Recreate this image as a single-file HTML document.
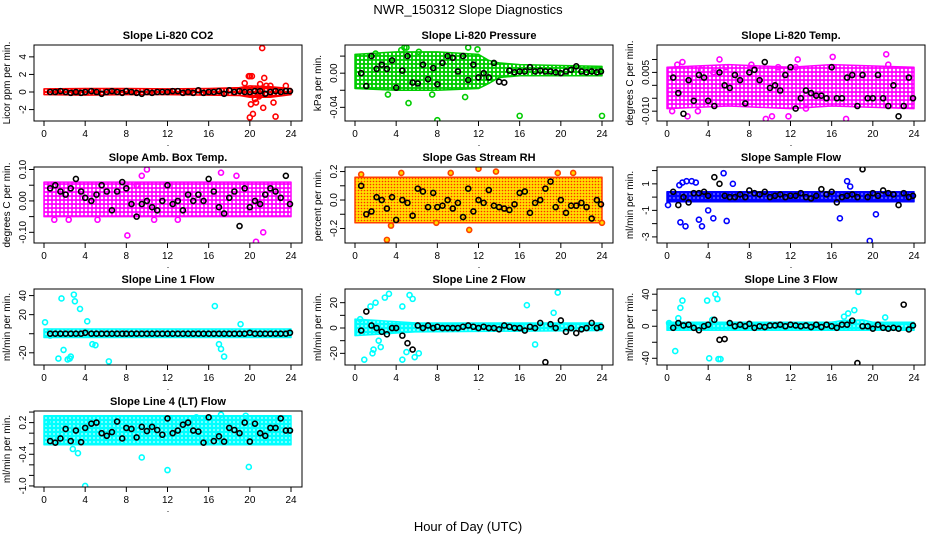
<!DOCTYPE html>
<html><head><meta charset="utf-8">
<style>
html,body{margin:0;padding:0;background:#fff;}
svg{display:block;font-family:"Liberation Sans",sans-serif;}
</style></head>
<body>
<svg id="chart" width="936" height="540" viewBox="0 0 936 540">
<defs>
<pattern id="pt-red" width="4" height="4" patternUnits="userSpaceOnUse"><rect width="4" height="4" fill="#ff0000"/><circle cx="2" cy="2" r="1" fill="#fff"/></pattern>
<pattern id="pt-green" width="4" height="4" patternUnits="userSpaceOnUse"><rect width="4" height="4" fill="#00cc00"/><circle cx="2" cy="2" r="1.2" fill="#fff"/></pattern>
<pattern id="pt-magenta" width="4" height="4" patternUnits="userSpaceOnUse"><rect width="4" height="4" fill="#ff00ff"/><circle cx="2" cy="2" r="1.3" fill="#fff"/></pattern>
<pattern id="pt-orange" width="3" height="3" patternUnits="userSpaceOnUse"><rect width="3" height="3" fill="#ffdd00"/><circle cx="1.5" cy="1.5" r="0.8" fill="#ff3000"/></pattern>
<pattern id="pt-blue" width="4" height="4" patternUnits="userSpaceOnUse"><rect width="4" height="4" fill="#0000ff"/><circle cx="2" cy="2" r="0.9" fill="#88f"/></pattern>
<pattern id="pt-cyan" width="4" height="4" patternUnits="userSpaceOnUse"><rect width="4" height="4" fill="#00ffff"/><circle cx="2" cy="2" r="0.9" fill="#cff"/></pattern>
</defs>
<text x="468" y="14" text-anchor="middle" font-size="13">NWR_150312  Slope Diagnostics</text>
<text x="468" y="531" text-anchor="middle" font-size="13">Hour of Day (UTC)</text>
</svg>
<script>
const blackHours=[0.6,1.1,1.6,2.1,2.6,3.1,3.6,4.0,4.6,5.1,5.6,6.1,6.6,7.1,7.6,8.0,8.5,9.0,9.5,10.0,10.5,11.0,11.5,12.0,12.5,13.0,13.5,14.0,14.5,15.0,15.5,16.0,16.5,17.0,17.5,18.0,18.5,19.0,19.5,20.0,20.5,21.0,21.5,22.0,22.5,23.0,23.5,23.9];
const xTicks=[0,4,8,12,16,20,24];

const co2BandH=[0,4,8,12,16,19,20,22,24];
const co2BandLo=[-0.3,-0.35,-0.3,-0.3,-0.35,-0.4,-0.6,-0.6,-0.3];
const co2BandHi=[0.35,0.4,0.4,0.35,0.4,0.5,0.7,0.6,0.4];
const co2OutX=[19.5,19.9,20.0,20.2,20.1,20.0,20.3,21.2,21.4,21.3,20.6,22.5,23.5,21.0,21.6,22.0,22.3,20.9,20.5];
const co2OutY=[1.0,1.8,1.8,1.8,-1.4,-2.9,-2.5,5.0,1.6,-1.8,-1.2,-2.8,0.7,0.9,0.7,0.7,-1.2,-0.5,-0.8];
const co2Black=[0,0,0.1,0,-0.1,0,-0.1,0,0.1,0,-0.2,0,0.1,0,-0.1,0.1,0,-0.1,-0.2,0,-0.1,0,0,0,0.1,0.1,-0.1,0,-0.1,0.2,-0.1,0,0,0.1,-0.2,0.2,0,0.1,0,0,0.1,0.1,-0.2,0,0.1,0,0.1,0.1];
const presBandH=[0,4,8,12,13,14,16,24];
const presBandLo=[-0.018,-0.02,-0.02,-0.018,-0.012,-0.005,-0.003,-0.003];
const presBandHi=[0.022,0.025,0.025,0.022,0.015,0.012,0.01,0.008];
const presOutX=[4.8,5.0,4.5,6.2,8.0,16.0,24.0,5.2,3.2,10.7,11.0,2.0,7.5,11.9];
const presOutY=[0.03,0.03,0.027,0.025,-0.055,-0.05,-0.05,-0.035,-0.025,-0.028,0.03,0.023,-0.025,0.028];
const presBlack=[0.0,-0.015,0.02,0.005,0.01,0.005,0.015,-0.017,0.003,0.02,-0.011,-0.012,0.01,-0.007,0.006,-0.013,0.012,0.02,0.018,0.002,0.02,-0.008,0.01,-0.005,0.0,-0.005,0.012,-0.01,-0.011,0.003,0.001,0.002,0.002,0.007,0.002,0.003,0.002,0.002,0.001,0.0,0.002,0.004,0.008,0.002,0.001,0.002,0.001,0.002];
const tempBandH=[0,6,12,16,24];
const tempBandLo=[-0.009,-0.008,-0.009,-0.008,-0.009];
const tempBandHi=[0.007,0.008,0.007,0.008,0.007];
const tempOutX=[1.0,1.5,2.0,3.3,4.5,5.1,5.7,8.2,9.6,10.8,11.8,12.5,12.7,13.5,16.1,17.4,21.3,21.5,0.5,3.0,10.2];
const tempOutY=[0.008,0.009,-0.012,0.006,0.005,0.01,0.007,0.008,-0.013,0.007,-0.012,0.007,0.01,-0.009,0.011,-0.013,0.012,0.008,-0.01,-0.01,-0.012];
const tempBlack=[0.003,-0.003,-0.011,0.002,-0.006,0.004,0.003,-0.006,-0.008,0.005,0.0,-0.001,0.004,0.002,-0.007,0.005,0.006,0.002,0.009,-0.001,0.0,-0.002,0.004,0.007,-0.009,-0.005,-0.002,-0.003,-0.004,-0.004,-0.005,0.007,-0.005,-0.005,0.003,0.004,-0.008,0.004,-0.005,-0.005,0.004,-0.005,-0.008,0.0,-0.012,-0.008,0.003,-0.005];
const ambBandH=[0,24];
const ambBandLo=[-0.05,-0.05];
const ambBandHi=[0.06,0.06];
const ambOutX=[8.1,9.5,10.0,10.7,13.0,17.2,18.7,20.6,21.3,1.0,2.4,5.2,9.0];
const ambOutY=[-0.11,0.08,0.1,-0.06,-0.06,0.09,0.08,-0.13,-0.1,-0.06,-0.06,-0.06,0.05];
const ambBlack=[0.04,0.05,0.03,0.02,0.04,0.07,0.03,0.01,0.0,0.02,0.05,0.03,-0.03,0.03,0.06,0.04,-0.01,-0.05,-0.01,0.0,-0.02,-0.03,0.0,0.05,-0.01,0.0,-0.03,0.02,0.0,0.02,0.0,0.07,0.03,-0.02,-0.04,0.01,0.03,-0.08,0.04,-0.02,0.0,-0.01,0.02,0.04,0.03,0.01,0.08,-0.01];
const rhBandH=[0,24];
const rhBandLo=[-0.16,-0.16];
const rhBandHi=[0.16,0.16];
const rhOutX=[3.1,0.6,4.5,11.1,12.0,13.7,19.7,21.2,24.0,3.5,9.3,7.9];
const rhOutY=[-0.28,0.18,0.19,-0.21,0.22,0.2,0.19,0.19,-0.16,-0.18,0.19,-0.16];
const rhBlack=[0.1,-0.1,-0.08,0.02,0.0,-0.06,0.02,-0.14,0.0,-0.02,-0.11,0.08,0.06,-0.05,0.05,-0.05,-0.04,0.0,-0.06,-0.02,-0.12,0.08,-0.08,0.0,-0.02,0.07,-0.04,-0.05,-0.06,-0.07,-0.03,0.05,0.06,-0.09,-0.02,0.0,0.08,0.13,-0.05,0.0,-0.09,-0.04,-0.04,-0.02,-0.05,-0.13,0.0,-0.03];
const sfBandH=[0,24];
const sfBandLo=[-0.35,-0.35];
const sfBandHi=[0.4,0.4];
const sfOutX=[1.3,1.8,2.4,2.8,3.1,3.4,1.5,4.5,5.8,5.5,6.4,16.8,17.5,17.8,19.7,20.3,0.1,1.2,1.9,4.0];
const sfOutY=[-1.9,-2.2,1.2,1.1,-1.7,-2.2,1.1,-1.6,-1.8,1.8,1.0,-1.6,1.2,0.8,-3.3,-1.3,-0.6,0.9,1.2,-1.0];
const sfBlack=[0.4,-0.6,0.0,-0.4,0.3,0.3,0.4,0.1,1.5,1.0,0.1,0.0,0.0,0.2,0.0,0.5,0.3,0.2,0.4,0.0,0.1,0.2,0.0,0.1,0.1,0.3,0.0,-0.1,0.1,0.6,0.2,0.4,-0.4,0.0,0.1,0.2,0.0,2.1,0.0,0.3,0.1,0.5,0.3,0.2,-0.6,0.3,0.0,0.1];
const l1BandH=[0,24];
const l1BandLo=[-4,-4];
const l1BandHi=[5,5];
const l1OutX=[0.1,1.4,1.7,2.3,2.6,2.9,3.0,3.5,4.2,4.7,1.9,6.3,16.6,17.0,17.2,17.5,19.1,2.5,0.6,5.0];
const l1OutY=[12,-26,37,-27,-24,41,34,26,13,-11,-17,-29,29,-11,-16,-24,10,-26,-2,-12];
const l1Black=[0,0,0,0,0,0,0,1,0,0,0,0,0,0,0,0,0,0,0,0,0,0,0,0,0,0,0,0,0,0,0,0,0,0,0,0,0,0,0,1,0,0,0,0,0,0,0,1];
const l2BandH=[0,6,24];
const l2BandLo=[-6,-3,-2];
const l2BandHi=[7,4,4];
const l2OutX=[0.5,0.9,1.5,1.8,2.0,2.5,2.9,3.3,4.6,5.3,5.6,1.7,2.3,4.6,5.0,16.7,17.5,19.3,19.7,5.8,6.2];
const l2OutY=[7,-25,17,-17,20,-15,24,27,17,26,23,-20,-10,-25,-19,18,-13,12,28,-23,-20];
const l2Black=[-2,13,2,0,-3,-5,0,0,-6,-12,-17,2,0,2,0,1,0,0,0,0,1,2,1,0,1,0,0,-1,2,1,0,0,-2,1,0,4,-27,3,0,6,-3,0,-4,-1,0,4,0,1];
const l3BandH=[0,16,17,19,20,24];
const l3BandLo=[-5,-5,-5,-5,-5,-5];
const l3BandHi=[5,5,7,8,5,5];
const l3OutX=[0.8,1.1,1.3,1.5,3.9,4.1,4.7,4.9,5.0,5.2,4.4,17.2,17.6,18.2,18.6,21.2,0.2];
const l3OutY=[-31,10,23,32,32,-40,40,34,-41,-41,8,12,16,20,43,11,4];
const l3Black=[-2,4,1,2,-2,-5,0,2,8,-17,-16,4,0,2,0,3,-2,0,-1,1,1,2,0,2,1,0,1,-1,2,-1,2,0,-2,2,2,7,-46,0,0,-3,2,-2,-3,-2,-3,27,-4,1];
const l4BandH=[0,24];
const l4BandLo=[-0.22,-0.22];
const l4BandHi=[0.33,0.33];
const l4OutX=[4.0,9.5,12.0,19.9,0.3,3.3,14.8,19.6,2.8,17.2];
const l4OutY=[-1.0,-0.46,-0.7,-0.64,0.2,-0.38,0.3,0.33,-0.3,0.35];
const l4Black=[-0.15,-0.18,-0.1,0.08,-0.15,0.05,-0.17,0.1,0.18,0.2,0.0,-0.05,0.02,0.22,-0.1,0.1,0.08,-0.08,0.12,0.04,0.12,0.06,-0.03,0.28,0.0,0.05,0.16,0.2,0.05,0.03,-0.18,0.3,-0.15,-0.06,-0.16,0.1,0.06,0.0,0.2,-0.16,0.18,0.0,-0.05,0.1,0.1,0.28,0.05,0.05];

const NS='http://www.w3.org/2000/svg';
const svg=document.getElementById('chart');
function mk(tag,attrs,parent){const e=document.createElementNS(NS,tag);for(const k in attrs)e.setAttribute(k,attrs[k]);(parent||svg).appendChild(e);return e;}

const panels=[
 {key:'co2',title:'Slope Li-820 CO2',ylab:'Licor ppm per min.',col:0,row:0,ymin:-3.3,ymax:5.35,ticks:[-2,0,2,4],labels:['-2','0','2','4'],color:'#ff0000',pat:'pt-red',fill:'none',bh:co2BandH,blo:co2BandLo,bhi:co2BandHi,ox:co2OutX,oy:co2OutY,bk:co2Black},
 {key:'pressure',title:'Slope Li-820 Pressure',ylab:'kPa per min.',col:1,row:0,ymin:-0.056,ymax:0.033,ticks:[-0.04,-0.02,0,0.02],labels:['-0.04','','0.00',''],color:'#00cc00',pat:'pt-green',fill:'none',bh:presBandH,blo:presBandLo,bhi:presBandHi,ox:presOutX,oy:presOutY,bk:presBlack},
 {key:'li820-temp',title:'Slope Li-820 Temp.',ylab:'degrees C per min.',col:2,row:0,ymin:-0.0138,ymax:0.0156,ticks:[-0.01,-0.005,0,0.005,0.01],labels:['-0.010','','','0.005',''],color:'#ff00ff',pat:'pt-magenta',fill:'none',bh:tempBandH,blo:tempBandLo,bhi:tempBandHi,ox:tempOutX,oy:tempOutY,bk:tempBlack},
 {key:'amb-temp',title:'Slope Amb. Box Temp.',ylab:'degrees C per min.',col:0,row:1,ymin:-0.134,ymax:0.108,ticks:[-0.1,-0.05,0,0.05,0.1],labels:['-0.10','','0.00','','0.10'],color:'#ff00ff',pat:'pt-magenta',fill:'none',bh:ambBandH,blo:ambBandLo,bhi:ambBandHi,ox:ambOutX,oy:ambOutY,bk:ambBlack},
 {key:'rh',title:'Slope Gas Stream RH',ylab:'percent per min.',col:1,row:1,ymin:-0.302,ymax:0.232,ticks:[-0.2,-0.1,0,0.1,0.2],labels:['-0.2','','0.0','','0.2'],color:'#ff4000',pat:'pt-orange',fill:'#ffdd00',bh:rhBandH,blo:rhBandLo,bhi:rhBandHi,ox:rhOutX,oy:rhOutY,bk:rhBlack},
 {key:'sample-flow',title:'Slope Sample Flow',ylab:'ml/min per min.',col:2,row:1,ymin:-3.46,ymax:2.27,ticks:[-3,-2,-1,0,1,2],labels:['-3','','-1','','1',''],color:'#0000ff',pat:'pt-blue',fill:'none',bh:sfBandH,blo:sfBandLo,bhi:sfBandHi,ox:sfOutX,oy:sfOutY,bk:sfBlack},
 {key:'line1',title:'Slope Line 1 Flow',ylab:'ml/min per min.',col:0,row:2,ymin:-32.8,ymax:46.9,ticks:[-20,0,20,40],labels:['-20','','20','40'],color:'#00ffff',pat:'pt-cyan',fill:'none',bh:l1BandH,blo:l1BandLo,bhi:l1BandHi,ox:l1OutX,oy:l1OutY,bk:l1Black},
 {key:'line2',title:'Slope Line 2 Flow',ylab:'ml/min per min.',col:1,row:2,ymin:-29.2,ymax:30.8,ticks:[-20,-10,0,10,20],labels:['-20','','0','','20'],color:'#00ffff',pat:'pt-cyan',fill:'none',bh:l2BandH,blo:l2BandLo,bhi:l2BandHi,ox:l2OutX,oy:l2OutY,bk:l2Black},
 {key:'line3',title:'Slope Line 3 Flow',ylab:'ml/min per min.',col:2,row:2,ymin:-48.4,ymax:46.5,ticks:[-40,-20,0,20,40],labels:['-40','','0','','40'],color:'#00ffff',pat:'pt-cyan',fill:'none',bh:l3BandH,blo:l3BandLo,bhi:l3BandHi,ox:l3OutX,oy:l3OutY,bk:l3Black},
 {key:'line4',title:'Slope Line 4 (LT) Flow',ylab:'ml/min per min.',col:0,row:3,ymin:-1.02,ymax:0.42,ticks:[-1.0,-0.8,-0.6,-0.4,-0.2,0,0.2,0.4],labels:['-1.0','','','-0.4','','','0.2',''],color:'#00ffff',pat:'pt-cyan',fill:'none',bh:l4BandH,blo:l4BandLo,bhi:l4BandHi,ox:l4OutX,oy:l4OutY,bk:l4Black}
];
const colLeft=[34,345,657];
const W=268,H=76;

panels.forEach(p=>{
 const x0=colLeft[p.col], y0=45+122*p.row, x1=x0+W, y1=y0+H;
 const sx=h=>x0+10+h/24*247;
 const sy=v=>y1-(v-p.ymin)/(p.ymax-p.ymin)*H;
 const g=mk('g',{});
 
 
 const cp=mk('clipPath',{id:'clip-'+p.key},g);
 mk('rect',{x:x0,y:y0,width:W,height:H},cp);
 const t=mk('text',{x:(x0+x1)/2,y:y0-6,'text-anchor':'middle','font-size':'11','font-weight':'bold'},g);
 t.textContent=p.title;
 
 
 const yl=mk('text',{x:0,y:0,'text-anchor':'middle','font-size':'10',transform:`translate(${x0-24},${(y0+y1)/2}) rotate(-90)`},g);
 yl.textContent=p.ylab;
 
 
 const plot=mk('g',{'clip-path':`url(#clip-${p.key})`},g);
 let pts=[];
 p.bh.forEach((h,i)=>pts.push(sx(h)+','+sy(p.bhi[i])));
 for(let i=p.bh.length-1;i>=0;i--)pts.push(sx(p.bh[i])+','+sy(p.blo[i]));
 const band=mk('polygon',{points:pts.join(' '),fill:`url(#${p.pat})`,stroke:p.color,'stroke-width':'1.5','stroke-linejoin':'round'},plot);
 
 
 p.ox.forEach((h,i)=>{
  const c=mk('circle',{cx:sx(h),cy:sy(p.oy[i]),r:2.5,fill:p.fill,stroke:p.color,'stroke-width':'1.6'},plot);
  
  
 });
 blackHours.forEach((h,i)=>{
  const c=mk('circle',{cx:sx(h),cy:sy(p.bk[i]),r:2.5,fill:'none',stroke:'#000','stroke-width':'1.6'},plot);
  
  
 });
 const box=mk('rect',{x:x0,y:y0,width:W,height:H,fill:'none',stroke:'#000','stroke-width':'1'},g);
 
 
 xTicks.forEach(v=>{
  mk('line',{x1:sx(v),x2:sx(v),y1:y1,y2:y1+5,stroke:'#000'},g);
  const tl=mk('text',{x:sx(v),y:y1+16,'text-anchor':'middle','font-size':'10'},g);
  tl.textContent=v;
  
  
 });
 const dot=mk('text',{x:(x0+x1)/2,y:y1+25,'text-anchor':'middle','font-size':'9'},g);
 dot.textContent='.';
 p.ticks.forEach((v,i)=>{
  mk('line',{x1:x0-5,x2:x0,y1:sy(v),y2:sy(v),stroke:'#000'},g);
  if(p.labels[i]){
   const tl=mk('text',{x:0,y:0,'text-anchor':'middle','font-size':'10',transform:`translate(${x0-8},${sy(v)}) rotate(-90)`},g);
   tl.textContent=p.labels[i];
   
   
  }
 });
});
</script>
</body></html>
